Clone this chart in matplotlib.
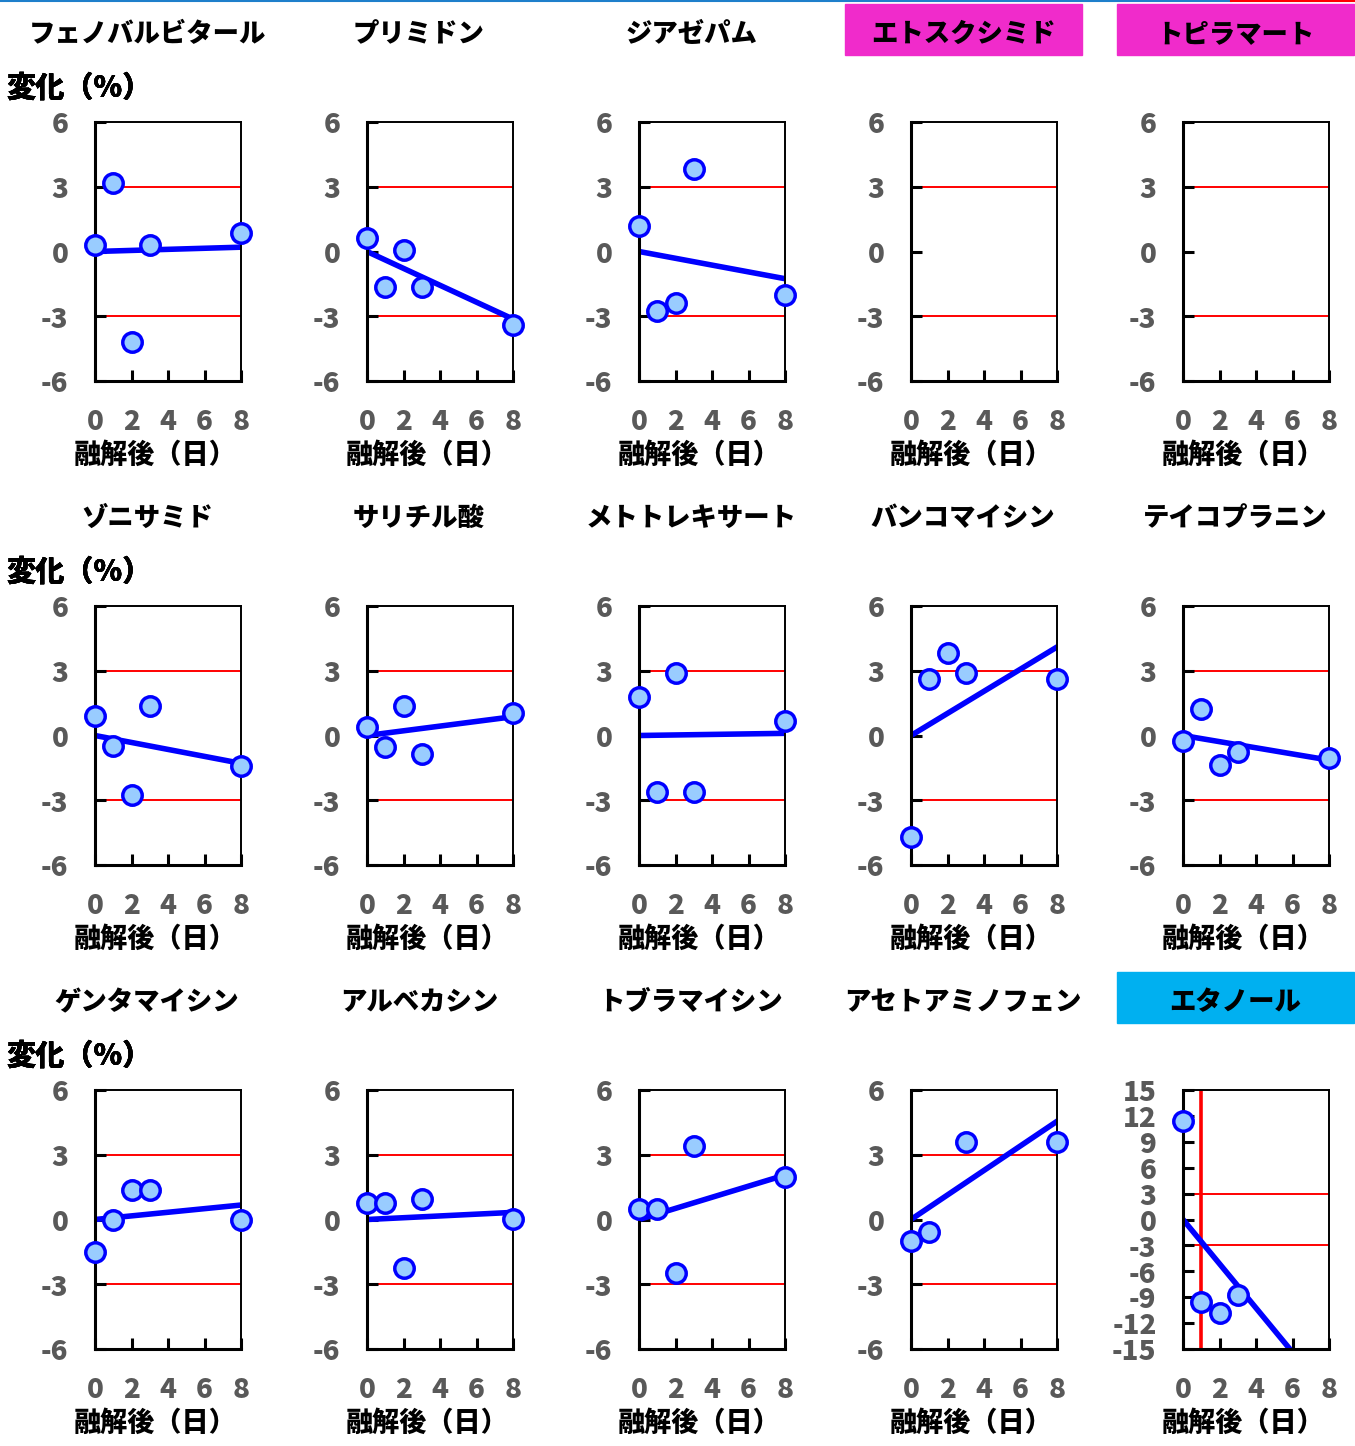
import matplotlib
matplotlib.use("Agg")
import matplotlib.pyplot as plt
import numpy as np
from matplotlib.patches import Rectangle
from matplotlib.lines import Line2D

plt.rcParams["font.family"] = ["Noto Sans CJK JP", "DejaVu Sans"]
plt.rcParams["axes.unicode_minus"] = False

# %% data
days = [0, 1, 2, 3, 8]
drugs = [
    "フェノバルビタール", "プリミドン", "ジアゼパム", "エトスクシミド", "トピラマート",
    "ゾニサミド", "サリチル酸", "メトトレキサート", "バンコマイシン", "テイコプラニン",
    "ゲンタマイシン", "アルベカシン", "トブラマイシン", "アセトアミノフェン", "エタノール",
]
nan = np.nan
change = [
    [0.31, 3.16, -4.19, 0.31, 0.86],
    [0.64, -1.65, 0.06, -1.65, -3.39],
    [1.18, -2.74, -2.38, 3.81, -2.0],
    [],
    [],
    [0.92, -0.47, -2.75, 1.35, -1.4],
    [0.41, -0.55, 1.35, -0.86, 1.03],
    [1.77, -2.6, 2.88, -2.6, 0.69],
    [-4.7, 2.6, 3.8, 2.9, 2.6],
    [-0.24, 1.23, -1.35, -0.78, -1.06],
    [-1.5, 0.0, 1.38, 1.38, 0.0],
    [0.75, 0.75, -2.27, 0.95, 0.02],
    [0.5, 0.5, -2.46, 3.41, 1.98],
    [-0.98, -0.6, nan, 3.6, 3.6],
    [11.4, -9.6, -10.8, -8.8, nan],
]
# regression line value at day 8 (line starts at 0 on day 0)
fit_end = [0.2, -3.13, -1.26, None, None,
           -1.29, 0.87, 0.1, 4.1, -1.14,
           0.67, 0.33, 2.06, 4.55, -20.5]
title_box = {3: "#F02BCB", 4: "#F02BCB", 14: "#00B0F0"}

# %% layout (pixels)
W, H = 1355, 1446
fig = plt.figure(figsize=(W / 100, H / 100), dpi=100)


def frac(x0, y0, w, h):
    return [x0 / W, 1 - (y0 + h) / H, w / W, h / H]


fig.add_artist(Line2D([0, 1231 / W], [1 - 1 / H] * 2, color="#1E7FCB", lw=1.5))
fig.add_artist(Line2D([1231 / W, 1], [1 - 1 / H] * 2, color="red", lw=1.5))

gray = "#595959"
wt = "heavy"
row_top = [122, 606, 1090]
for i, name in enumerate(drugs):
    r, c = divmod(i, 5)
    x0 = 95 + 272 * c
    y0 = row_top[r]
    ax = fig.add_axes(frac(x0, y0, 146, 259))

    # title
    tx = (147 + 272 * c) / W
    ty = 1 - (y0 - 88) / H
    if i in title_box:
        fig.add_artist(Rectangle(((tx * W - 118.5) / W, 1 - (y0 - 67) / H),
                                 237 / W, 51 / H, transform=fig.transFigure,
                                 color=title_box[i], zorder=0))
    fig.text(tx, ty, name, ha="center", va="center", fontsize=19,
             fontweight=wt)
    fig.text(6 / W, 1 - (y0 - 34) / H, "変化（%）", ha="left", va="center",
             fontsize=21, fontweight=wt)
    fig.text((155 + 272 * c) / W, 1 - (y0 + 333) / H, "融解後（日）",
             ha="center", va="center", fontsize=19.5, fontweight=wt)

    lim = 15 if i == 14 else 6
    ax.set_xlim(0, 8)
    ax.set_ylim(-lim, lim)
    ax.set_xticks([0, 2, 4, 6, 8])
    ax.set_yticks(np.arange(-lim, lim + 1, 3))
    ax.tick_params(direction="in", length=8, width=2.2, colors="black",
                   labelcolor=gray, labelsize=20)
    ax.tick_params(axis="y", pad=19)
    ax.tick_params(axis="x", pad=19)
    for lab in ax.get_xticklabels() + ax.get_yticklabels():
        lab.set_fontweight(wt)
    for s in ["left", "bottom"]:
        ax.spines[s].set_linewidth(2.2)
    for s in ["top", "right"]:
        ax.spines[s].set_linewidth(1.4)

    ax.hlines([3, -3], 0.5, 8, color="red", lw=1.4, zorder=1)
    if i == 14:
        ax.axvline(1, color="red", lw=2.6, zorder=1)

    if fit_end[i] is not None:
        ax.plot([0, 8], [0, fit_end[i]], color="#0000FF", lw=4, zorder=2)
    if change[i]:
        ax.plot(days, change[i], "o", ms=14, mfc="#99CCFF", mec="#0000FF",
                mew=2.5, clip_on=False, zorder=3)

fig.savefig("out.png", dpi=100)
